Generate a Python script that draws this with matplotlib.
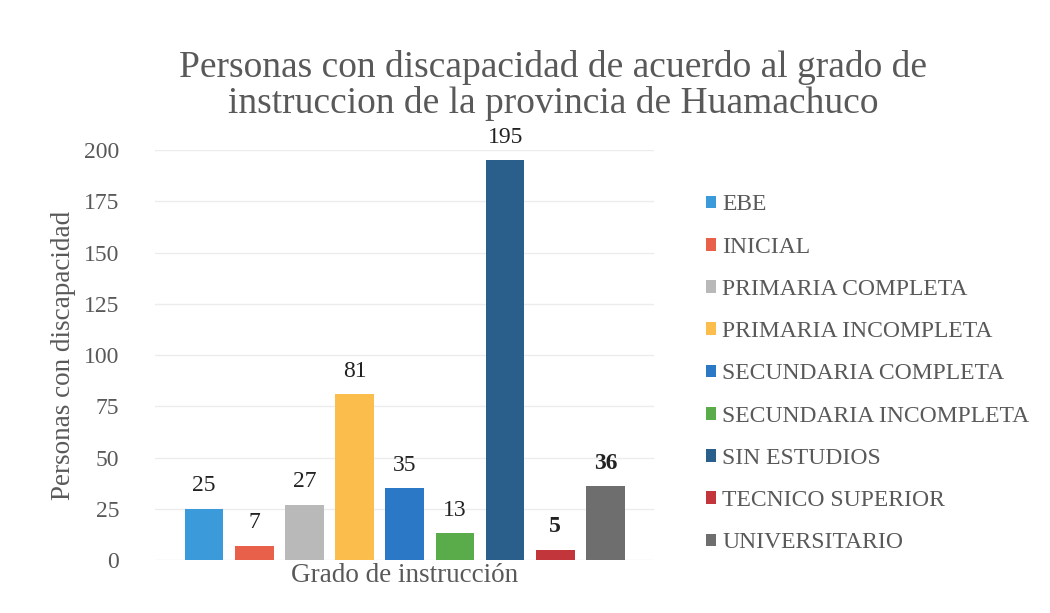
import matplotlib.pyplot as plt

categorias = ["EBE", "INICIAL", "PRIMARIA COMPLETA", "PRIMARIA INCOMPLETA",
              "SECUNDARIA COMPLETA", "SECUNDARIA INCOMPLETA", "SIN ESTUDIOS",
              "TECNICO SUPERIOR", "UNIVERSITARIO"]
valores = [25, 7, 27, 81, 35, 13, 195, 5, 36]
negrita = [False, False, False, False, False, False, False, True, True]
colores = ["#3b9ad9", "#e8604a", "#b9b9b9", "#fbbd4c", "#2b78c6",
           "#5aab4a", "#2a5f8c", "#c2353b", "#6e6e6e"]

plt.rcParams['font.family'] = ['Liberation Serif', 'DejaVu Serif']
gris = "#595959"

fig = plt.figure(figsize=(10.5, 6.13), dpi=100)
ax = fig.add_axes([0.148, 0.0865, 0.475, 0.6685])

pos = list(range(len(valores)))
barras = ax.bar(pos, valores, width=0.77, color=colores, label=categorias, zorder=3)

for x, v, b in zip(pos, valores, negrita):
    ax.annotate(str(v), (x, v), xytext=(0, 9), textcoords="offset points",
                ha="center", va="bottom", fontsize=17, color="#222222",
                fontweight="bold" if b else "normal")

ax.set_ylim(0, 200)
ax.set_xlim(-0.97, 8.97)
ax.set_yticks(range(0, 201, 25))
ax.set_xticks([])
ax.tick_params(axis="y", length=0, labelsize=17, labelcolor=gris, pad=26)
ax.grid(axis="y", color="#ececec", linewidth=1, zorder=0)
for s in ax.spines.values():
    s.set_visible(False)

ax.set_ylabel("Personas con discapacidad", fontsize=19.5, color=gris, labelpad=6)
ax.set_xlabel("Grado de instrucción", fontsize=19.5, color=gris, labelpad=2)

fig.text(0.527, 0.86, "Personas con discapacidad de acuerdo al grado de\ninstruccion de la provincia de Huamachuco",
         ha="center", va="center", fontsize=27, color=gris, linespacing=1.05)

fig.legend(handles=barras, labels=categorias, loc="center left",
           bbox_to_anchor=(0.652, 0.39), frameon=False, fontsize=17,
           labelcolor=gris, handlelength=0.45, handleheight=0.45,
           handletextpad=0.25, labelspacing=0.9)

fig.savefig("out.png", dpi=100)
